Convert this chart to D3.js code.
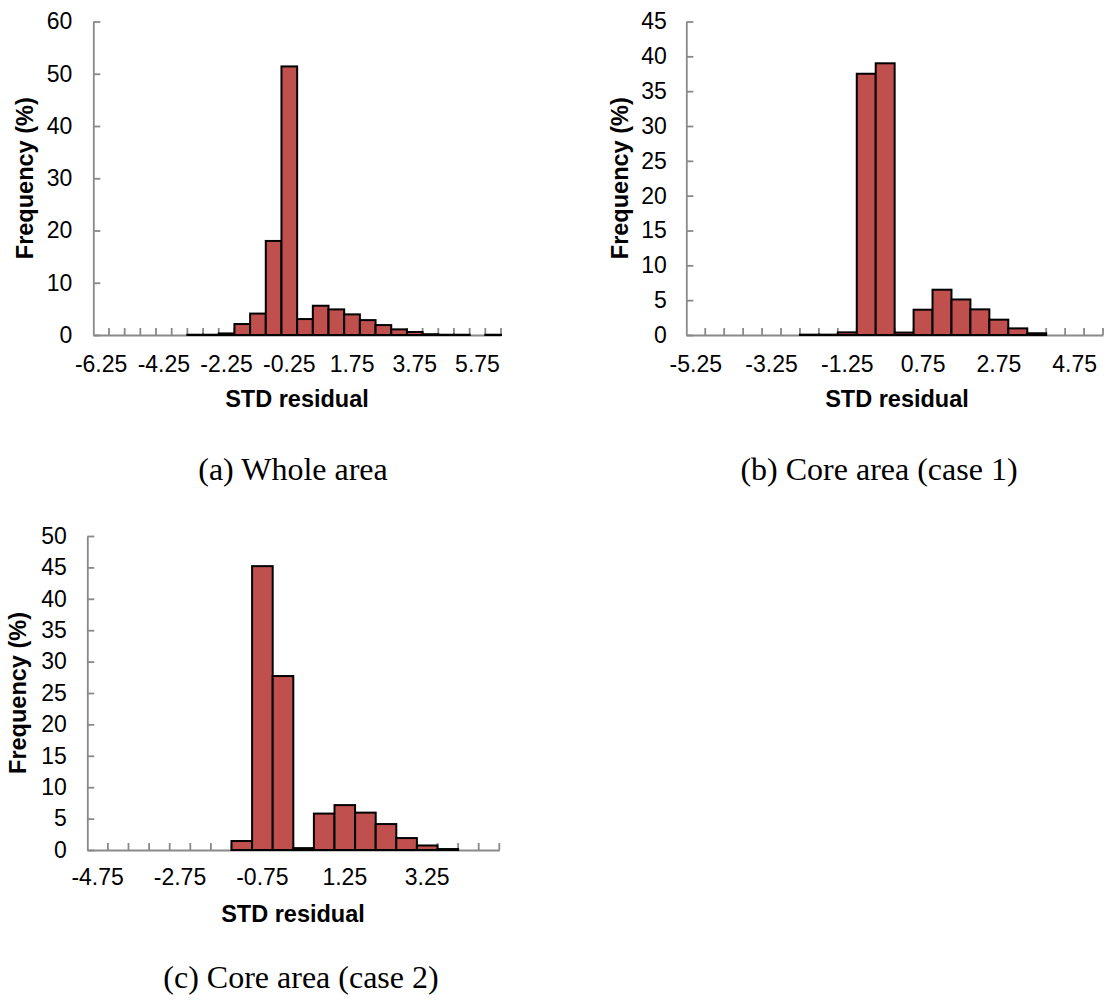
<!DOCTYPE html>
<html>
<head>
<meta charset="utf-8">
<script src="https://cdn.jsdelivr.net/npm/d3@7"></script>
<style>
  html, body { margin: 0; padding: 0; background: #fff; }
  svg { display: block; }
</style>
</head>
<body>
<svg id="chart" width="1105" height="1004"></svg>
<script>
// ---- Data ----
const catsA = ["-6.25","-5.75","-5.25","-4.75","-4.25","-3.75","-3.25","-2.75","-2.25","-1.75","-1.25","-0.75","-0.25","0.25","0.75","1.25","1.75","2.25","2.75","3.25","3.75","4.25","4.75","5.25","5.75","6.25"];
const valsA = [null,null,null,null,null,null,0.05,0.05,0.3,2.1,4.1,18.0,51.4,3.05,5.6,4.9,3.95,2.85,1.9,1.08,0.57,0.15,0.05,0.05,null,0.05];
const yTicksA = [0,10,20,30,40,50,60];

const catsB = ["-5.25","-4.75","-4.25","-3.75","-3.25","-2.75","-2.25","-1.75","-1.25","-0.75","-0.25","0.25","0.75","1.25","1.75","2.25","2.75","3.25","3.75","4.25","4.75","5.25"];
const valsB = [null,null,null,null,null,null,0.05,0.05,0.38,37.5,39.0,0.35,3.63,6.5,5.1,3.68,2.2,0.95,0.25,null,null,null];
const yTicksB = [0,5,10,15,20,25,30,35,40,45];

const catsC = ["-4.75","-4.25","-3.75","-3.25","-2.75","-2.25","-1.75","-1.25","-0.75","-0.25","0.25","0.75","1.25","1.75","2.25","2.75","3.25","3.75","4.25","4.75"];
const valsC = [null,null,null,null,null,null,null,1.43,45.2,27.7,0.3,5.8,7.15,5.95,4.13,1.9,0.72,0.15,null,null];
const yTicksC = [0,5,10,15,20,25,30,35,40,45,50];

const xTitle = "STD residual";
const yTitle = "Frequency (%)";
const captions = ["(a) Whole area", "(b) Core area (case 1)", "(c) Core area (case 2)"];

// ---- Layout ----
const panels = [
  {cats: catsA, vals: valsA, yTicks: yTicksA, x0: 93.3, x1: 501, yTop: 21.5, yBot: 335,
   tickPad: 21, yLabX: 33, xLabBase: 372, xTitleX: 297, xTitleY: 407, capX: 293, capY: 480, caption: captions[0]},
  {cats: catsB, vals: valsB, yTicks: yTicksB, x0: 686.3, x1: 1103, yTop: 21.5, yBot: 335,
   tickPad: 19.5, yLabX: 628, xLabBase: 372, xTitleX: 897, xTitleY: 407, capX: 879, capY: 480, caption: captions[1]},
  {cats: catsC, vals: valsC, yTicks: yTicksC, x0: 87.3, x1: 499.3, yTop: 536, yBot: 850,
   tickPad: 20.5, yLabX: 26, xLabBase: 885, xTitleX: 293, xTitleY: 921.5, capX: 301, capY: 988, caption: captions[2]}
];

const svg = d3.select("#chart");
const sans = "'Liberation Sans', Arial, sans-serif";
const serif = "'Liberation Serif', 'Times New Roman', serif";
const axisColor = "#898989";
const barColor = "#C0504D";
const fs = 23;
const fsTitle = 23.5;

panels.forEach(p => {
  const g = svg.append("g");
  const x = d3.scaleBand().domain(p.cats).range([p.x0, p.x1]).padding(0);
  const yMax = d3.max(p.yTicks);
  const y = d3.scaleLinear().domain([0, yMax]).range([p.yBot, p.yTop]);

  // y axis (ticks inside, pointing right)
  const yAxis = d3.axisLeft(y).tickValues(p.yTicks).tickSizeInner(-7).tickSizeOuter(0).tickPadding(p.tickPad);
  const ya = g.append("g").attr("transform", `translate(${p.x0},0)`).call(yAxis);
  ya.select(".domain").attr("stroke", axisColor).attr("stroke-width", 1.8);
  ya.selectAll(".tick line").attr("stroke", axisColor).attr("stroke-width", 1.8);
  ya.selectAll(".tick text").attr("font-family", sans).attr("font-size", fs).attr("fill", "#000");

  // x axis line + labels
  const labelCats = p.cats.filter((d, i) => i % 4 === 0);
  const xAxis = d3.axisBottom(x).tickValues(labelCats).tickSizeInner(0).tickSizeOuter(0)
      .tickPadding(p.xLabBase - p.yBot - 0.71 * fs);
  const xa = g.append("g").attr("transform", `translate(0,${p.yBot})`).call(xAxis);
  xa.select(".domain").attr("stroke", axisColor).attr("stroke-width", 1.8);
  xa.selectAll(".tick text").attr("font-family", sans).attr("font-size", fs).attr("fill", "#000");

  // category boundary ticks (pointing up)
  const bounds = p.cats.map(c => x(c) + x.bandwidth());
  g.append("g").selectAll("line").data(bounds).join("line")
    .attr("x1", d => d).attr("x2", d => d)
    .attr("y1", p.yBot).attr("y2", p.yBot - 7)
    .attr("stroke", axisColor).attr("stroke-width", 1.8);

  // bars
  const data = p.cats.map((c, i) => ({c, v: p.vals[i]})).filter(d => d.v !== null);
  g.append("g").selectAll("rect").data(data).join("rect")
    .attr("x", d => x(d.c))
    .attr("width", x.bandwidth())
    .attr("y", d => y(d.v))
    .attr("height", d => y(0) - y(d.v))
    .attr("fill", barColor)
    .attr("stroke", "#000")
    .attr("stroke-width", 2);

  // axis titles
  g.append("text").attr("x", p.xTitleX).attr("y", p.xTitleY)
    .attr("text-anchor", "middle").attr("font-family", sans).attr("font-weight", "bold")
    .attr("font-size", fsTitle).text(xTitle);
  const cy = (p.yTop + p.yBot) / 2;
  g.append("text").attr("transform", `translate(${p.yLabX},${cy}) rotate(-90)`)
    .attr("text-anchor", "middle").attr("font-family", sans).attr("font-weight", "bold")
    .attr("font-size", fsTitle).text(yTitle);

  // caption
  g.append("text").attr("x", p.capX).attr("y", p.capY)
    .attr("text-anchor", "middle").attr("font-family", serif)
    .attr("font-size", 32).text(p.caption);
});
</script>
</body>
</html>
